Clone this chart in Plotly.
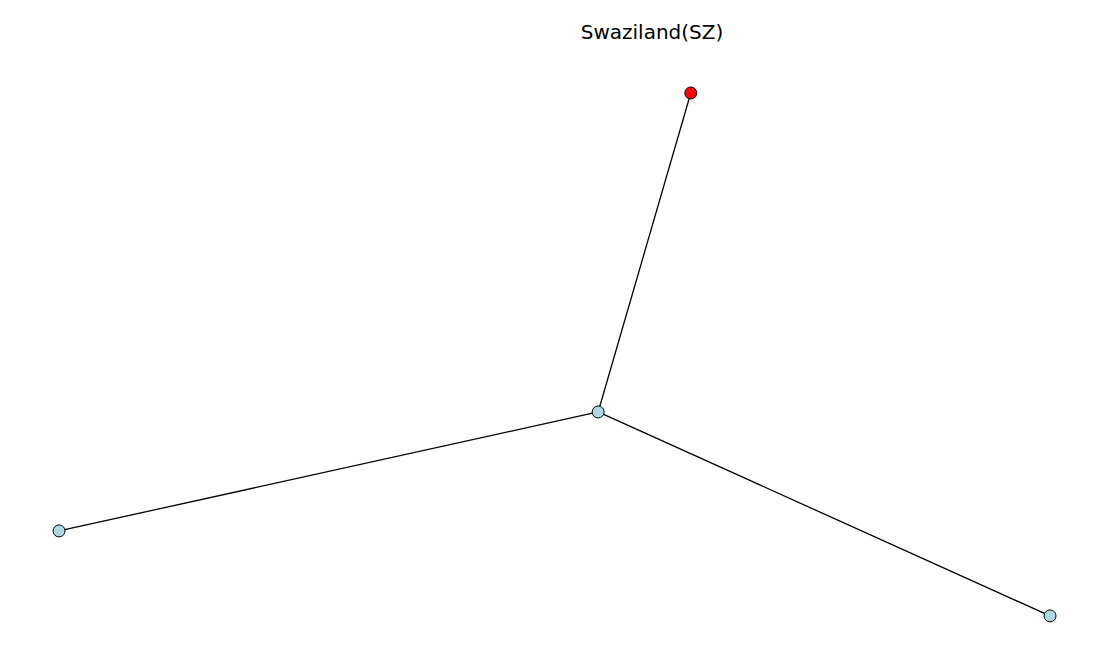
import plotly.graph_objects as go

# node layout (spring-like coordinates) and edges
nodes = ["SZ", "hub", "west", "east"]
node_x = [0.275, 0.088, -1.0, 1.0]
node_y = [1.0, -0.22, -0.675, -1.0]
node_colors = ["red", "lightblue", "lightblue", "lightblue"]
edges = [("hub", "SZ"), ("hub", "west"), ("hub", "east")]

pos = {n: (x, y) for n, x, y in zip(nodes, node_x, node_y)}

edge_x, edge_y = [], []
for a, b in edges:
    edge_x += [pos[a][0], pos[b][0], None]
    edge_y += [pos[a][1], pos[b][1], None]

fig = go.Figure()
fig.add_trace(go.Scatter(x=edge_x, y=edge_y, mode="lines",
                         line=dict(color="black", width=1.3), hoverinfo="none"))
fig.add_trace(go.Scatter(x=node_x, y=node_y, mode="markers", text=nodes, hoverinfo="text",
                         marker=dict(size=12, color=node_colors,
                                     line=dict(color="black", width=1))))

fig.update_layout(
    width=1100, height=650,
    showlegend=False,
    plot_bgcolor="white", paper_bgcolor="white",
    margin={"r": 0, "t": 0, "l": 0, "b": 0},
    font=dict(family="DejaVu Sans"),
    title=dict(text="Swaziland(SZ)", x=644 / 1100, xanchor="center",
               y=1 - 24 / 650, yanchor="middle",
               font=dict(size=20, color="black", family="DejaVu Sans")),
)
fig.update_xaxes(visible=False, range=[-1.103, 1.117], fixedrange=True)
fig.update_yaxes(visible=False, range=[-1.161, 1.325], fixedrange=True)

fig.write_html("out.html")
